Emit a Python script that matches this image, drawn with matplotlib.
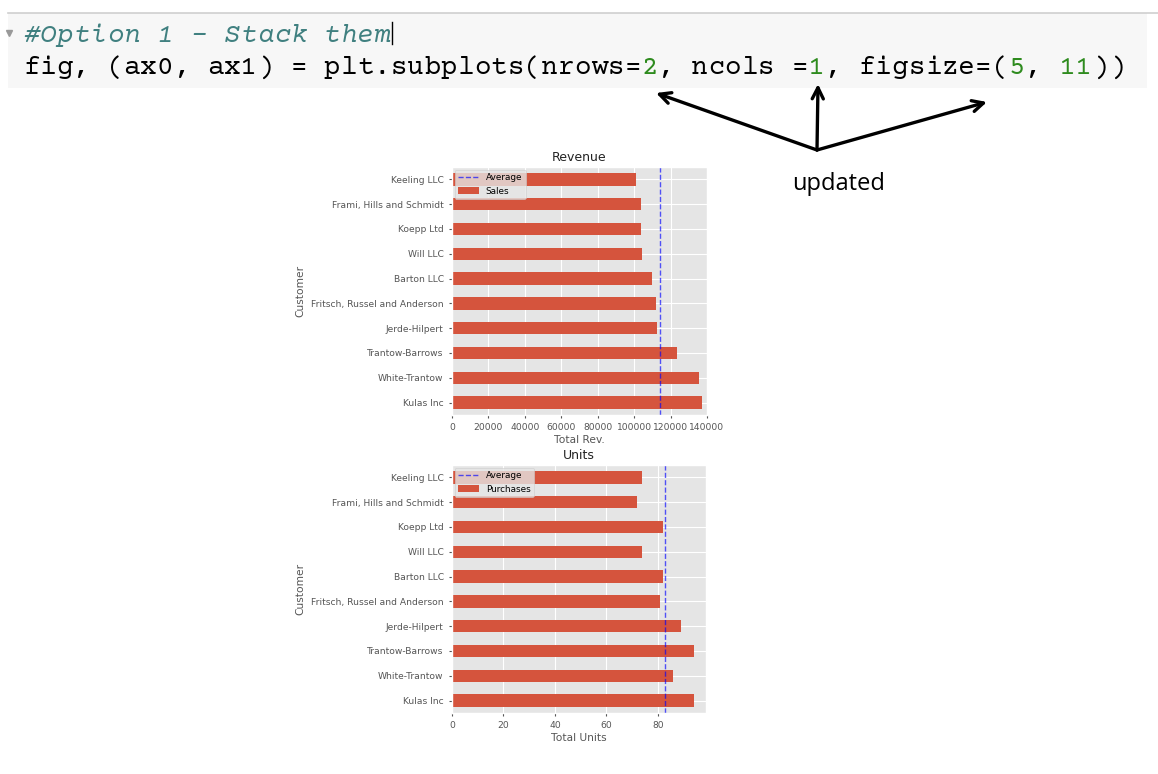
import numpy as np
import matplotlib
matplotlib.use('Agg')
import matplotlib.pyplot as plt
from matplotlib import font_manager as fm
from matplotlib.patches import Rectangle

plt.style.use('ggplot')

# data (bottom to top, as pandas barh draws it)
customers = ['Kulas Inc', 'White-Trantow', 'Trantow-Barrows', 'Jerde-Hilpert',
             'Fritsch, Russel and Anderson', 'Barton LLC', 'Will LLC',
             'Koepp Ltd', 'Frami, Hills and Schmidt', 'Keeling LLC']
sales = [137350, 135840, 123380, 112590, 112210, 109580, 104440, 103660, 103570, 100930]
purchases = [94, 86, 94, 89, 81, 82, 74, 82, 72, 74]

code_line1 = '#Option 1 - Stack them'
code_line2 = 'fig, (ax0, ax1) = plt.subplots(nrows=2, ncols =1, figsize=(5, 11))'
note = 'updated'

# pick a courier-like (slab serif) monospace font that is installed
fonts = {(f.name, f.style) for f in fm.fontManager.ttflist}
mono = 'DejaVu Sans Mono'
for cand in ['Courier Prime', 'Nimbus Mono PS', 'Courier New', 'Cutive Mono',
             'Xanh Mono', 'Liberation Mono']:
    if (cand, 'normal') in fonts:
        mono = cand
        break
mono_italic = 'italic' if (mono, 'italic') in fonts else 'oblique'

W, H = 1158, 774
fig = plt.figure(figsize=(W / 100, H / 100), dpi=100)
fig.patch.set_facecolor('white')

# overlay in pixel coordinates for the notebook cell and the arrows
ov = fig.add_axes([0, 0, 1, 1])
ov.set_xlim(0, W)
ov.set_ylim(H, 0)
ov.axis('off')

ov.add_patch(Rectangle((8, 13), 1139, 75, facecolor='#f7f7f7', edgecolor='none'))
ov.plot([8, W], [13, 13], color='#cfcfcf', lw=1.2)
ov.plot([9], [33], marker='v', color='#999999', ms=4)

char_w = 16.7
fs_code = 20
x0 = 23.2
# one glyph per cell so the columns stay on the monospace grid
for i, c in enumerate(code_line1):
    if c == ' ':
        continue
    ov.text(x0 + (i + 0.5) * char_w, 42, c, family=mono, style=mono_italic,
            fontsize=fs_code, color='#408080', va='baseline', ha='center')
ov.plot([392, 392], [22, 44], color='black', lw=1)

green_idx = [i for i, c in enumerate(code_line2) if c.isdigit() and code_line2[i - 1] in '=( ']
green_idx += [i + 1 for i in green_idx if code_line2[i + 1].isdigit()]
for i, c in enumerate(code_line2):
    if c == ' ':
        continue
    ov.text(x0 + (i + 0.5) * char_w, 74, c, family=mono, fontsize=fs_code,
            color='#2e8b1e' if i in green_idx else 'black',
            va='baseline', ha='center')

origin = (817, 150)
for tip in [(656, 93), (818, 84), (987, 102)]:
    ov.annotate('', xy=tip, xytext=origin,
                arrowprops=dict(arrowstyle='->', lw=2.4, color='black',
                                mutation_scale=20, shrinkA=0, shrinkB=0))
ov.text(839, 184, note, fontsize=17, color='black', ha='center', va='center',
        family='Open Sans')


def px_axes(left, top, right, bottom):
    return fig.add_axes([left / W, 1 - bottom / H, (right - left) / W, (bottom - top) / H])


ax0 = px_axes(452, 167, 707, 415)
ax1 = px_axes(452, 465, 706, 713)

y = np.arange(len(customers))
tick_fs = 6.6
lab_fs = 7.7

for ax, vals, name, title, xlab, xmax in [
        (ax0, sales, 'Sales', 'Revenue', 'Total Rev.', 140000),
        (ax1, purchases, 'Purchases', 'Units', 'Total Units', max(purchases) * 1.05)]:
    ax.barh(y, vals, height=0.5, color='#D5543D', label=name)
    ax.axvline(np.mean(vals), color='b', linestyle='--', lw=1, alpha=0.65, label='Average')
    ax.set_yticks(y)
    ax.set_yticklabels(customers)
    ax.set_ylim(-0.5, len(customers) - 0.5)
    ax.set_xlim(0, xmax)
    ax.tick_params(labelsize=tick_fs, length=2.5, colors='#555555')
    ax.set_title(title, fontsize=9, color='#222222', pad=4)
    ax.set_xlabel(xlab, fontsize=lab_fs, color='#555555', labelpad=2)
    ax.set_ylabel('Customer', fontsize=lab_fs, color='#555555')
    ax.legend(loc='upper left', fontsize=6.4, borderpad=0.4, labelspacing=0.5,
              handlelength=2.3, borderaxespad=0.3)

ax0.set_xticks(np.arange(0, 140001, 20000))
ax1.set_xticks(np.arange(0, 81, 20))

fig.savefig('out.png', dpi=100)
